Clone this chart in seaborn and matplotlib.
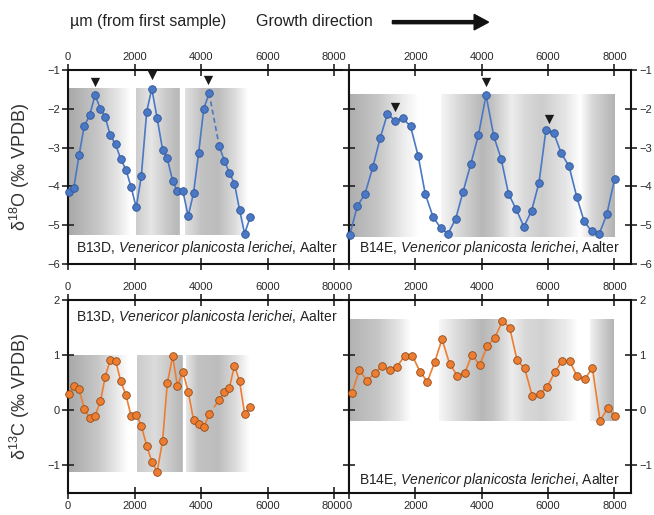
import numpy as np
import seaborn as sns
import matplotlib.pyplot as plt

# B13D (Venericor planicosta lerichei, Aalter) - distance from first sample (um)
b13d_x = [20, 173, 335, 487, 650, 812, 975, 1117, 1269, 1431, 1584, 1746, 1898, 2051,
          2203, 2365, 2518, 2680, 2843, 2985, 3147, 3289, 3452, 3614, 3777, 3929, 4081,
          4244, 4548, 4701, 4853, 5005, 5157, 5310, 5482]
b13d_d18o = [-4.14, -4.04, -3.18, -2.45, -2.17, -1.65, -2.0, -2.21, -2.68, -2.92, -3.29,
             -3.58, -4.02, -4.54, -3.74, -2.08, -1.48, -2.24, -3.05, -3.28, -3.86, -4.13,
             -4.11, -4.77, -4.16, -3.13, -2.0, -1.60, -2.97, -3.34, -3.65, -3.93, -4.60,
             -5.22, -4.78]
b13d_d13c = [0.29, 0.44, 0.38, 0.03, -0.14, -0.10, 0.16, 0.61, 0.91, 0.90, 0.53, 0.27,
             -0.11, -0.08, -0.28, -0.64, -0.93, -1.11, -0.56, 0.49, 0.98, 0.44, 0.70, 0.34,
             -0.18, -0.25, -0.31, -0.07, 0.19, 0.33, 0.41, 0.81, 0.53, -0.06, 0.06]
b13d_gap = 27  # dashed segment after this index

# B14E
b14e_x_o = [20, 252, 484, 716, 938, 1159, 1391, 1623, 1855, 2087, 2298, 2530, 2762, 2984,
            3216, 3438, 3669, 3901, 4133, 4365, 4587, 4808, 5040, 5272, 5504, 5726, 5938,
            6170, 6401, 6633, 6865, 7087, 7319, 7540, 7772, 8004]
b14e_d18o = [-5.26, -4.51, -4.19, -3.51, -2.76, -2.13, -2.31, -2.25, -2.45, -3.22, -4.19,
             -4.78, -5.07, -5.22, -4.84, -4.14, -3.43, -2.68, -1.65, -2.71, -3.29, -4.19,
             -4.59, -5.04, -4.63, -3.91, -2.54, -2.62, -3.15, -3.48, -4.27, -4.90, -5.16,
             -5.23, -4.72, -3.82]
b14e_x_c = [90, 312, 543, 774, 995, 1226, 1447, 1678, 1910, 2141, 2362, 2583, 2804, 3035,
            3266, 3487, 3709, 3940, 4171, 4392, 4623, 4844, 5065, 5296, 5528, 5749, 5980,
            6201, 6432, 6653, 6874, 7106, 7337, 7568, 7799, 8020]
b14e_d13c = [0.31, 0.73, 0.54, 0.67, 0.81, 0.73, 0.79, 0.99, 0.99, 0.70, 0.52, 0.87, 1.29,
             0.84, 0.63, 0.67, 1.01, 0.82, 1.17, 1.31, 1.62, 1.50, 0.91, 0.76, 0.25, 0.30,
             0.43, 0.69, 0.90, 0.89, 0.62, 0.56, 0.77, -0.19, 0.04, -0.11]

# growth-line markers (triangles)
b13d_peak_x = [812, 2518, 4223]
b13d_peak_y = [-1.32, -1.13, -1.27]
b14e_peak_x = [1391, 4133, 6018]
b14e_peak_y = [-1.95, -1.32, -2.26]

# grey gradient bands: (x, grey level) stops, and vertical extent
bands_b13d_o = [[(0, 0.66), (900, 0.78), (1500, 0.9), (1880, 1.0)],
                [(2030, 0.8), (2500, 0.9), (2900, 0.8), (3300, 0.72), (3370, 0.8)],
                [(3520, 0.88), (4000, 0.76), (4500, 0.74), (5000, 0.86), (5400, 1.0)]]
bands_b14e_o = [[(0, 0.68), (900, 0.78), (1600, 0.92), (2100, 1.0)],
                [(2750, 0.97), (3300, 0.85), (4000, 0.72), (4300, 0.76), (4900, 0.93),
                 (5300, 0.85), (5800, 0.8), (6500, 0.9), (6950, 1.0), (7300, 0.85), (8000, 0.7)]]
bands_b13d_c = [[(0, 0.66), (900, 0.78), (1400, 0.9), (1800, 1.0)],
                [(2080, 0.8), (2600, 0.86), (3100, 0.78), (3400, 0.72), (3450, 0.8)],
                [(3550, 0.9), (3900, 0.76), (4500, 0.74), (5000, 0.86), (5450, 1.0)]]
bands_b14e_c = [[(0, 0.7), (900, 0.78), (1500, 0.9), (1860, 1.0)],
                [(2700, 0.97), (3300, 0.85), (4000, 0.72), (4300, 0.76), (4900, 0.93),
                 (5300, 0.85), (5800, 0.82), (6500, 0.92), (6880, 1.0)],
                [(7240, 0.95), (7600, 0.82), (7970, 0.7)]]
band_y_b13d_o = (-5.26, -1.49)
band_y_b14e_o = (-5.30, -1.63)
band_y_b13d_c = (-1.12, 1.0)
band_y_b14e_c = (-0.19, 1.65)

xticks = [0, 2000, 4000, 6000, 8000]
label = "B{}, $\\it{{Venericor\\ planicosta\\ lerichei}}$, Aalter"

sns.set_style("ticks")
plt.rcParams['font.family'] = ['Liberation Sans', 'DejaVu Sans']
plt.rcParams['mathtext.fontset'] = 'custom'
plt.rcParams['mathtext.rm'] = 'Liberation Sans'
plt.rcParams['mathtext.it'] = 'Liberation Sans:italic'
plt.rcParams['axes.linewidth'] = 1.5

fig = plt.figure(figsize=(6.54, 5.15), dpi=100)
ax_tl = fig.add_axes([0.104, 0.4874, 0.4297, 0.3767])
ax_tr = fig.add_axes([0.5336, 0.4874, 0.4312, 0.3767])
ax_bl = fig.add_axes([0.104, 0.0427, 0.4297, 0.3748])
ax_br = fig.add_axes([0.5336, 0.0427, 0.4312, 0.3748])


def draw_bands(ax, bands, yext, xmax):
    xs = np.linspace(0, xmax, 2400)
    img = np.ones((1, len(xs), 4))
    img[0, :, 3] = 0
    for stops in bands:
        sx = [s[0] for s in stops]
        sg = [s[1] for s in stops]
        m = (xs >= sx[0]) & (xs <= sx[-1])
        g = np.interp(xs[m], sx, sg)
        img[0, m, 0] = g
        img[0, m, 1] = g
        img[0, m, 2] = g
        img[0, m, 3] = 1
    ax.imshow(img, extent=(0, xmax, yext[0], yext[1]), aspect='auto',
              interpolation='nearest', zorder=0)


def draw_series(ax, x, y, fill, edge, gap=None):
    kw = dict(color=fill, marker='o', markersize=5.5, markerfacecolor=fill,
              markeredgecolor=edge, markeredgewidth=0.6, linewidth=1.2, clip_on=False, zorder=3)
    if gap is None:
        sns.lineplot(x=x, y=y, ax=ax, sort=False, **kw)
    else:
        sns.lineplot(x=x[:gap + 1], y=y[:gap + 1], ax=ax, sort=False, **kw)
        sns.lineplot(x=x[gap + 1:], y=y[gap + 1:], ax=ax, sort=False, **kw)
        sns.lineplot(x=x[gap:gap + 2], y=y[gap:gap + 2], ax=ax, sort=False, color=fill,
                     linewidth=1.2, linestyle=(0, (3, 2)), zorder=2)


blue, blue_edge = '#4a78c4', '#2f5597'
orange, orange_edge = '#ed7d31', '#8c4a1a'

draw_bands(ax_tl, bands_b13d_o, band_y_b13d_o, 8450)
draw_bands(ax_tr, bands_b14e_o, band_y_b14e_o, 8500)
draw_bands(ax_bl, bands_b13d_c, band_y_b13d_c, 8450)
draw_bands(ax_br, bands_b14e_c, band_y_b14e_c, 8500)

draw_series(ax_tl, b13d_x, b13d_d18o, blue, blue_edge, gap=b13d_gap)
draw_series(ax_tr, b14e_x_o, b14e_d18o, blue, blue_edge)
draw_series(ax_bl, b13d_x, b13d_d13c, orange, orange_edge, gap=b13d_gap)
draw_series(ax_br, b14e_x_c, b14e_d13c, orange, orange_edge)

sns.scatterplot(x=b13d_peak_x, y=b13d_peak_y, ax=ax_tl, marker='v', color='#1a1a1a', s=45,
                linewidth=0, zorder=4)
sns.scatterplot(x=b14e_peak_x, y=b14e_peak_y, ax=ax_tr, marker='v', color='#1a1a1a', s=45,
                linewidth=0, zorder=4)

for ax in (ax_tl, ax_bl):
    ax.set_xlim(0, 8450)
for ax in (ax_tr, ax_br):
    ax.set_xlim(0, 8500)
for ax in (ax_tl, ax_tr):
    ax.set_ylim(-6, -1)
    ax.set_yticks([-1, -2, -3, -4, -5, -6])
for ax in (ax_bl, ax_br):
    ax.set_ylim(-1.5, 2)
    ax.set_yticks([2, 1, 0, -1])

for ax in (ax_tl, ax_tr, ax_bl, ax_br):
    ax.set_xticks(xticks)
    ax.set_xlabel('')
    ax.set_ylabel('')
    ax.tick_params(direction='inout', length=8, width=1.2, labelsize=8, colors='#222222',
                   labelcolor='#2a2a2a', pad=2)
    for s in ax.spines.values():
        s.set_color('#111111')

# top row: labels on top only; right panel hides 0
ax_tl.tick_params(top=True, labeltop=True, bottom=True, labelbottom=False,
                  left=True, labelleft=True, right=False)
ax_tr.tick_params(top=True, labeltop=True, bottom=True, labelbottom=False,
                  left=True, labelleft=False, right=True, labelright=True)
ax_tr.set_xticklabels(['', '2000', '4000', '6000', '8000'])
# bottom row: labels on top and bottom
ax_bl.tick_params(top=True, labeltop=True, bottom=True, labelbottom=True,
                  left=True, labelleft=True, right=False)
ax_br.tick_params(top=True, labeltop=True, bottom=True, labelbottom=True,
                  left=True, labelleft=False, right=True, labelright=True)

txt = dict(fontsize=10, color='#222222', va='center')
ax_tl.text(0.027, 0.08, label.format('13D'), transform=ax_tl.transAxes, **txt)
ax_tr.text(0.036, 0.08, label.format('14E'), transform=ax_tr.transAxes, **txt)
ax_bl.text(0.027, 0.913, label.format('13D'), transform=ax_bl.transAxes, **txt)
ax_br.text(0.036, 0.067, label.format('14E'), transform=ax_br.transAxes, **txt)

fig.text(0.031, 0.676, 'δ$^{18}$O (‰ VPDB)', rotation=90, ha='center', va='center',
         fontsize=13, color='#333333')
fig.text(0.031, 0.23, 'δ$^{13}$C (‰ VPDB)', rotation=90, ha='center', va='center',
         fontsize=13, color='#333333')

fig.text(0.107, 0.959, 'µm (from first sample)', ha='left', va='center', fontsize=11.5,
         color='#222222')
fig.text(0.392, 0.959, 'Growth direction', ha='left', va='center', fontsize=11.5,
         color='#222222')
fig.patches.append(plt.matplotlib.patches.FancyArrow(
    0.600, 0.957, 0.125, 0, width=0.006, head_width=0.03, head_length=0.022,
    length_includes_head=False, color='#111111', transform=fig.transFigure, figure=fig))

fig.savefig('out.png', dpi=100)
